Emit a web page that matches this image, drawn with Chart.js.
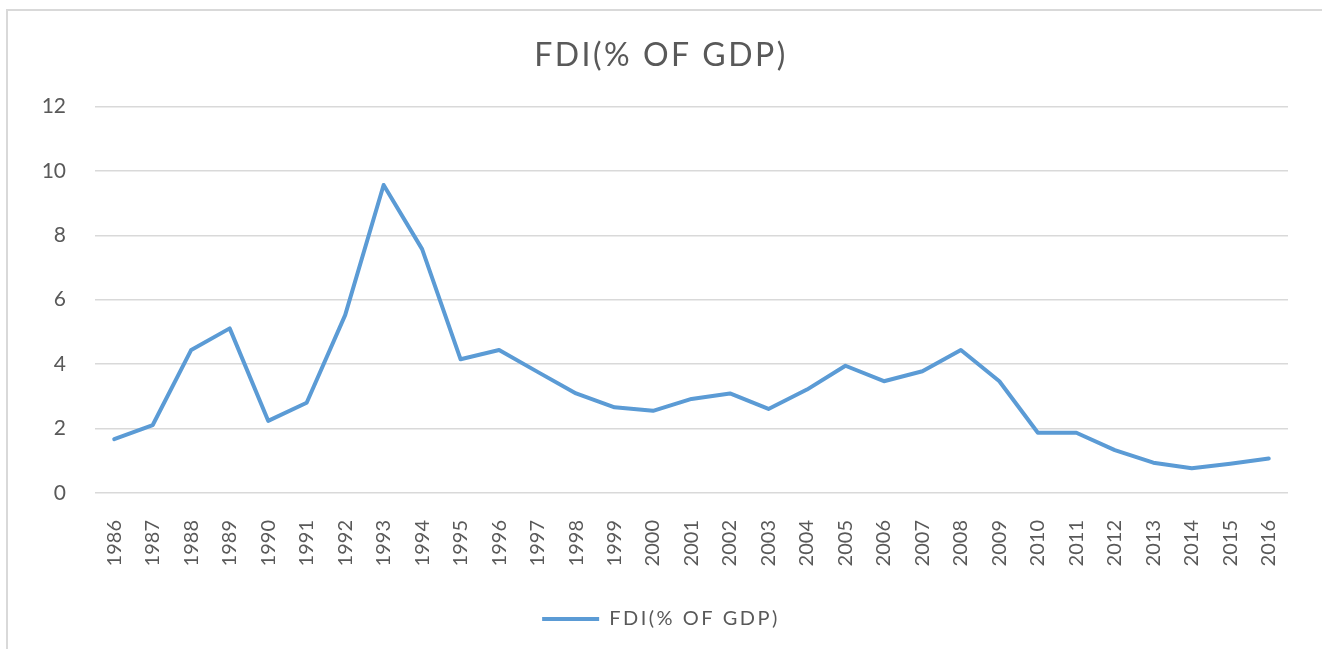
<!DOCTYPE html>
<html>
<head>
<meta charset="utf-8">
<title>FDI(% OF GDP)</title>
<script src="https://cdn.jsdelivr.net/npm/chart.js@4.4.1/dist/chart.umd.min.js"></script>
<style>
  html, body { margin: 0; padding: 0; background: #ffffff; }
  #wrap { position: relative; width: 1322px; height: 649px; overflow: hidden; }
  #frame {
    position: absolute; left: 6px; top: 9px; right: -10px; bottom: -10px;
    border-top: 2px solid #d9d9d9; border-left: 2px solid #d9d9d9;
    pointer-events: none;
  }
  #fdiChart { position: absolute; left: 0; top: 0; }
</style>
</head>
<body>
<div id="wrap">
  <div id="frame"></div>
  <canvas id="fdiChart" width="1322" height="649"></canvas>
</div>
<script>
// data
const years = [
  "1986", "1987", "1988", "1989", "1990", "1991", "1992", "1993", "1994", "1995",
  "1996", "1997", "1998", "1999", "2000", "2001", "2002", "2003", "2004", "2005",
  "2006", "2007", "2008", "2009", "2010", "2011", "2012", "2013", "2014", "2015", "2016"
];
const fdiValues = [
  1.67, 2.11, 4.44, 5.11, 2.24, 2.80, 5.52, 9.56, 7.57, 4.15,
  4.44, 3.76, 3.09, 2.66, 2.55, 2.92, 3.09, 2.61, 3.21, 3.95,
  3.47, 3.78, 4.44, 3.47, 1.87, 1.87, 1.33, 0.94, 0.77, 0.91, 1.07
];
const yTickValues = [0, 2, 4, 6, 8, 10, 12];
const seriesName = "FDI(% OF GDP)";

const textGray = "#595959";
const lineBlue = "#5b9bd5";

// title + legend text in the picture is spaced out a bit
const spacingPlugin = {
  id: "spacing",
  beforeLayout(chart) { chart.ctx.letterSpacing = "2.5px"; },
  beforeDraw(chart) { chart.ctx.letterSpacing = "2.5px"; },
};

// axis labels drawn by hand so the years can read bottom-to-top
const axisLabels = {
  id: "axisLabels",
  afterDraw(chart) {
    const ctx = chart.ctx;
    const xScale = chart.scales.x;
    const yScale = chart.scales.y;
    ctx.save();
    ctx.letterSpacing = "0px";
    ctx.fillStyle = textGray;

    ctx.font = "21px Lato";
    ctx.textAlign = "right";
    ctx.textBaseline = "middle";
    yTickValues.forEach((v) => {
      ctx.fillText(String(v), 66, yScale.getPixelForValue(v));
    });

    ctx.font = "20px Lato";
    years.forEach((label, i) => {
      const x = xScale.getPixelForTick(i);
      ctx.save();
      ctx.translate(x, 520);
      ctx.rotate(-Math.PI / 2);
      ctx.textAlign = "right";
      ctx.textBaseline = "middle";
      ctx.fillText(label, 0, 0);
      ctx.restore();
    });
    ctx.restore();
  },
};

const ctx = document.getElementById("fdiChart").getContext("2d");
new Chart(ctx, {
  type: "line",
  data: {
    labels: years,
    datasets: [
      {
        label: seriesName,
        data: fdiValues,
        borderColor: lineBlue,
        backgroundColor: lineBlue,
        borderWidth: 4,
        borderCapStyle: "round",
        borderJoinStyle: "round",
        pointRadius: 0,
        tension: 0,
      },
    ],
  },
  options: {
    responsive: false,
    animation: false,
    layout: { padding: { left: 0, right: 0, top: 0, bottom: 10 } },
    plugins: {
      title: {
        display: true,
        text: seriesName,
        color: textGray,
        font: { family: "Lato", size: 32, weight: "normal" },
        padding: { top: 36, bottom: 32 },
      },
      legend: {
        display: true,
        position: "bottom",
        labels: {
          color: textGray,
          font: { family: "Lato", size: 20 },
          usePointStyle: true,
          pointStyle: "line",
          pointStyleWidth: 57,
          padding: 10,
        },
      },
      tooltip: { enabled: false },
    },
    scales: {
      x: {
        offset: true,
        grid: { display: false },
        border: { display: false },
        ticks: { display: false },
        afterFit: (scale) => { scale.height = 106; },
      },
      y: {
        min: 0,
        max: 12,
        afterBuildTicks: (scale) => {
          scale.ticks = yTickValues.map((v) => ({ value: v }));
        },
        grid: { color: "#d9d9d9", lineWidth: 1.5, drawTicks: false },
        border: { display: false },
        ticks: { display: false },
        afterFit: (scale) => { scale.width = 95; },
      },
      // empty strip on the right so title/legend stay centred on the page
      spacer: {
        type: "linear",
        position: "right",
        grid: { display: false },
        border: { display: false },
        ticks: { display: false },
        afterFit: (scale) => { scale.width = 34; },
      },
    },
  },
  plugins: [spacingPlugin, axisLabels],
});
</script>
</body>
</html>
